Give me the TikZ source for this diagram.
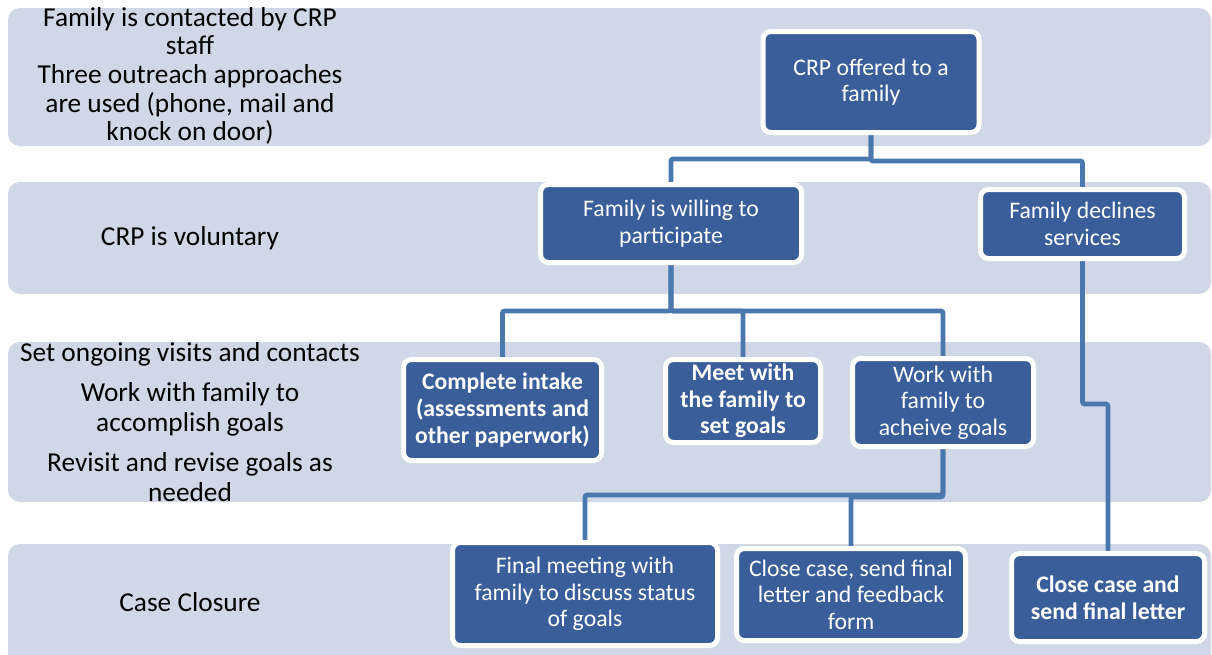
\documentclass[tikz,border=0pt]{standalone}
\usepackage{fontspec}
\setmainfont{Carlito}

\definecolor{bandfill}{HTML}{D0D8E8}
\definecolor{boxfill}{HTML}{3A5E9A}
\definecolor{linkblue}{HTML}{4A77AD}

\pgfdeclarelayer{bands}
\pgfdeclarelayer{links}
\pgfsetlayers{bands,links,main}

\begin{document}
\begin{tikzpicture}[
    x=0.75pt, y=-0.75pt,
    band/.style={fill=bandfill, rounded corners=9pt},
    stage/.style={align=center, text=black, font=\fontsize{20.5}{21.5}\selectfont},
    procbox/.style={rectangle, rounded corners=6pt, fill=boxfill, draw=white,
      line width=3.75pt, text=white, align=center, inner sep=0pt,
      font=\fontsize{17.8}{20}\selectfont},
    boldbox/.style={procbox, font=\fontsize{17.8}{20}\selectfont\bfseries},
    link/.style={draw=linkblue, line width=3.5pt, rounded corners=1.5pt}
  ]
  \useasboundingbox (0,0) rectangle (1212,654);

  % --- Stage bands ---
  \begin{pgfonlayer}{bands}
    \fill[band] (8,8) rectangle (1211,146);
    \fill[band] (8,182) rectangle (1211,294);
    \fill[band] (8,342) rectangle (1211,502);
    \fill[band] (8,544) rectangle (1211,680);
  \end{pgfonlayer}

  % --- Stage descriptions ---
  \node[stage] (contact) at (190,76) {Family is contacted by CRP\\ staff\\ Three outreach approaches\\ are used (phone, mail and\\ knock on door)};
  \node[stage] (voluntary) at (190,238) {CRP is voluntary};
  \node[stage, font=\fontsize{20.5}{22.5}\selectfont] (ongoing) at (190,422) {Set ongoing visits and contacts\\[7.5pt] Work with family to\\ accomplish goals\\[7.5pt] Revisit and revise goals as\\ needed};
  \node[stage] (closure) at (190,602) {Case Closure};

  % --- Process boxes ---
  \node[procbox, minimum width=162pt, minimum height=75.75pt] (offered) at (871,82) {CRP offered to a\\ family};
  \node[procbox, minimum width=195.75pt, minimum height=58.5pt] (willing) at (671,223.5) {Family is willing to\\ participate};
  \node[procbox, minimum width=153pt, minimum height=51.75pt] (declines) at (1082.5,224) {Family declines\\ services};
  \node[boldbox, minimum width=148.5pt, minimum height=75.75pt] (intake) at (502.5,410) {Complete intake\\ (assessments and\\ other paperwork)};
  \node[boldbox, minimum width=116.25pt, minimum height=62.25pt] (meet) at (743,401) {Meet with\\ the family to\\ set goals};
  \node[procbox, minimum width=135.75pt, minimum height=66pt] (work) at (943,402.5) {Work with\\ family to\\ acheive goals};
  \node[procbox, minimum width=198.75pt, minimum height=77.25pt] (finalmeet) at (585,594) {Final meeting with\\ family to discuss status\\ of goals};
  \node[procbox, minimum width=171.75pt, minimum height=69pt] (closeform) at (851,594.5) {Close case, send final\\ letter and feedback\\ form};
  \node[boldbox, minimum width=144.75pt, minimum height=66pt] (closeletter) at (1108,597.5) {Close case and\\ send final letter};

  % --- Connectors ---
  \begin{pgfonlayer}{links}
    \draw[link] (offered.south) -- ++(0,24) -| (willing.north);
    \draw[link] (offered.south) -- ++(0,26) -| (declines.north);
    \draw[link] (willing.south) -- ++(0,46) -| (intake.north);
    \draw[link] (willing.south) -- ++(0,46) -| (meet.north);
    \draw[link] (willing.south) -- ++(0,46) -| (work.north);
    \draw[link] (work.south) -- ++(0,46) -| (finalmeet.north);
    \draw[link] (work.south) -- ++(0,48) -| (closeform.north);
    \draw[link] (declines.south) -- ++(0,143) -| (closeletter.north);
  \end{pgfonlayer}
\end{tikzpicture}
\end{document}
